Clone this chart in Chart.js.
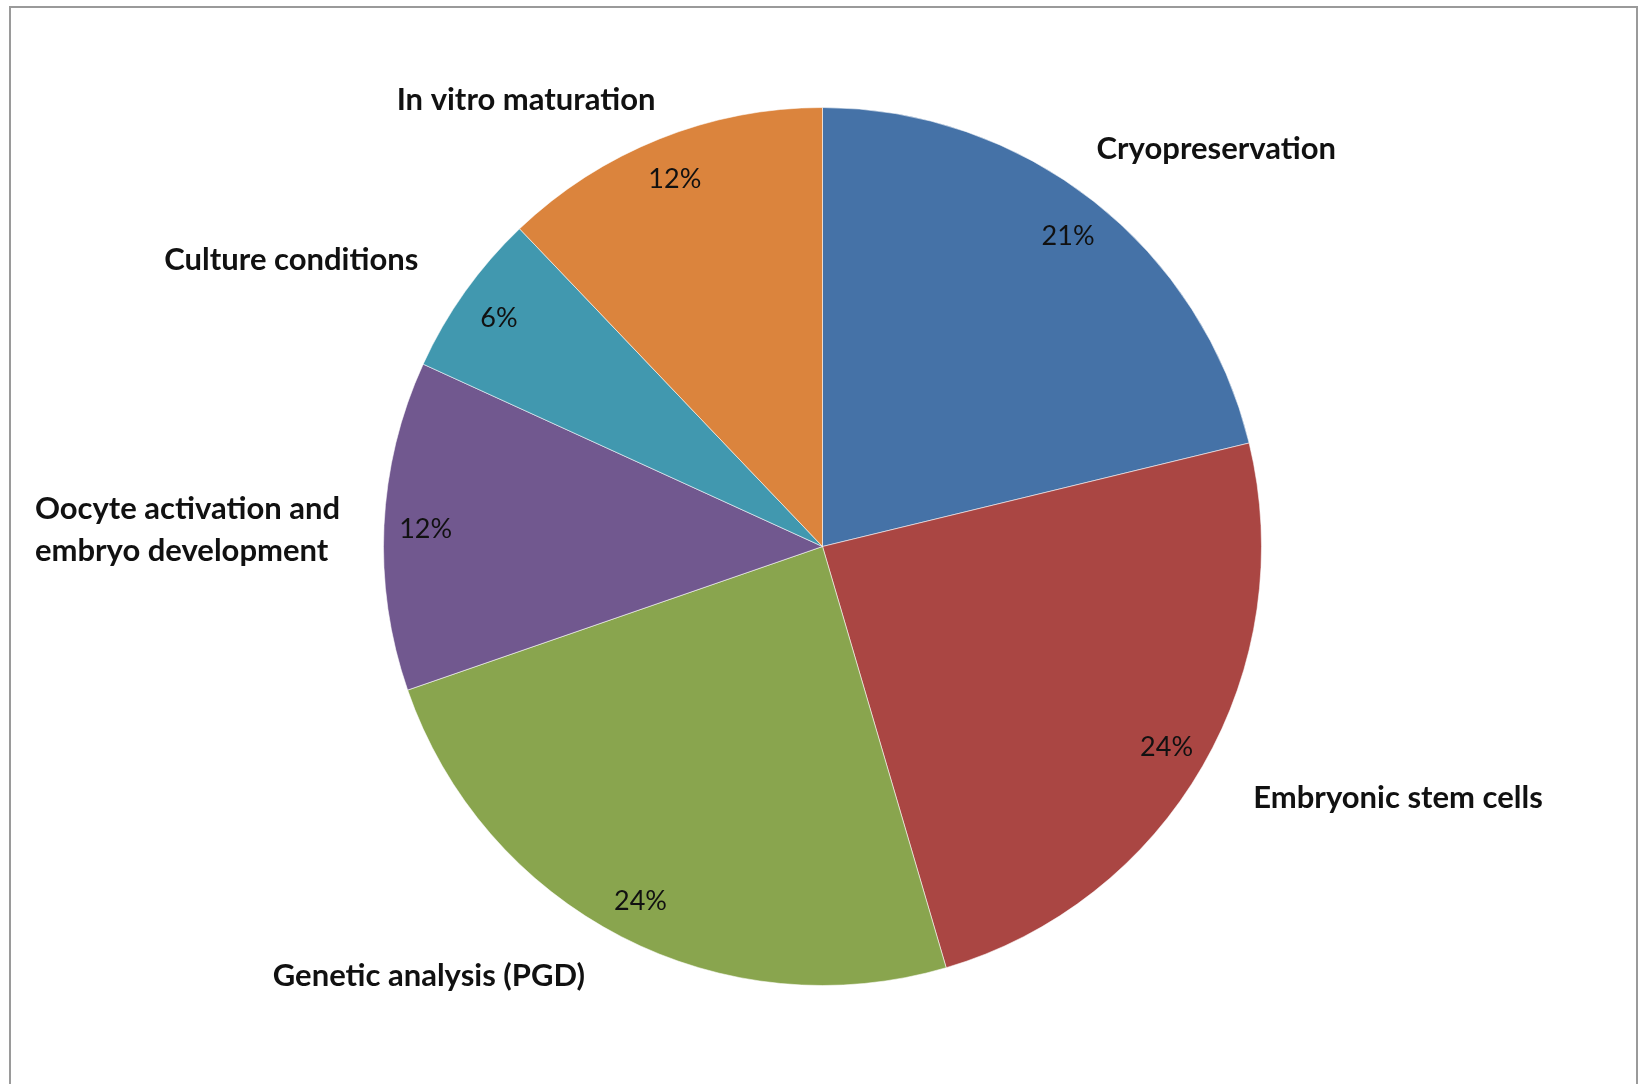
<!DOCTYPE html>
<html>
<head>
<meta charset="utf-8">
<script src="https://cdn.jsdelivr.net/npm/chart.js@4.4.0/dist/chart.umd.min.js"></script>
<style>
  html, body { margin: 0; padding: 0; background: #fff; }
  #wrap { width: 1640px; height: 1084px; position: relative; }
</style>
</head>
<body>
<div id="wrap"><canvas id="chart"></canvas></div>
<script>
// research topics, counts (out of 33 papers)
var categories = ['Cryopreservation', 'Embryonic stem cells', 'Genetic analysis (PGD)',
                  'Oocyte activation and embryo development', 'Culture conditions', 'In vitro maturation'];
var counts = [7, 8, 8, 4, 2, 4];
var sliceColors = ['#4572A7', '#AA4643', '#89A54E', '#71588F', '#4198AF', '#DB843D'];

// label text lines, and small hand nudges to sit like the original
var labelLines = [['Cryopreservation'], ['Embryonic stem cells'], ['Genetic analysis (PGD)'],
                  ['Oocyte activation and', 'embryo development'], ['Culture conditions'], ['In vitro maturation']];
var labelNudge = [[-22, -21], [16, 12], [-18, 4], [-4, 6], [-14, -9], [11, -2]];

const labelPlugin = {
    id: 'pieLabels',
    beforeDraw(chart) {
        const c = chart.ctx;
        c.save();
        c.strokeStyle = '#9a9a9a';
        c.lineWidth = 2;
        c.beginPath();
        c.moveTo(10, chart.height);
        c.lineTo(10, 7);
        c.lineTo(chart.width - 3, 7);
        c.lineTo(chart.width - 3, chart.height);
        c.stroke();
        c.restore();
    },
    afterDatasetsDraw(chart) {
        const c = chart.ctx;
        const meta = chart.getDatasetMeta(0);
        const total = counts.reduce((a, b) => a + b, 0);
        c.save();
        c.fillStyle = '#111';
        meta.data.forEach(function(arc, i) {
            const p = arc.getProps(['x', 'y', 'startAngle', 'endAngle', 'outerRadius'], true);
            const mid = (p.startAngle + p.endAngle) / 2;
            const cos = Math.cos(mid), sin = Math.sin(mid);

            // percentage, inside end
            const pr = p.outerRadius * 0.905;
            c.font = '27px Lato';
            c.textAlign = 'center';
            c.textBaseline = 'middle';
            c.fillText(Math.round(counts[i] / total * 100) + '%', p.x + cos * pr, p.y + sin * pr + 2);

            // category name, outside; lines left-aligned inside their block
            const lr = p.outerRadius + 40;
            const lx = p.x + cos * lr + labelNudge[i][0];
            const ly = p.y + sin * lr + labelNudge[i][1];
            c.font = 'bold 31px Lato';
            c.textAlign = 'left';
            const lines = labelLines[i];
            const w = Math.max.apply(null, lines.map(t => c.measureText(t).width));
            const x0 = cos >= 0 ? lx : lx - w;
            const lh = 42;
            lines.forEach(function(t, k) {
                c.fillText(t, x0, ly + (k - (lines.length - 1) / 2) * lh);
            });
        });
        c.restore();
    }
};

const ctx = document.getElementById('chart').getContext('2d');
const pieChart = new Chart(ctx, {
    type: 'pie',
    data: {
        labels: categories,
        datasets: [{
            data: counts,
            backgroundColor: sliceColors,
            borderColor: 'rgba(255,255,255,0.55)',
            borderWidth: 1
        }]
    },
    options: {
        responsive: true,
        maintainAspectRatio: false,
        animation: false,
        layout: {
            padding: { left: 383, top: 107, right: 378, bottom: 98 }
        },
        plugins: {
            legend: { display: false },
            tooltip: { enabled: false }
        }
    },
    plugins: [labelPlugin]
});
</script>
</body>
</html>
